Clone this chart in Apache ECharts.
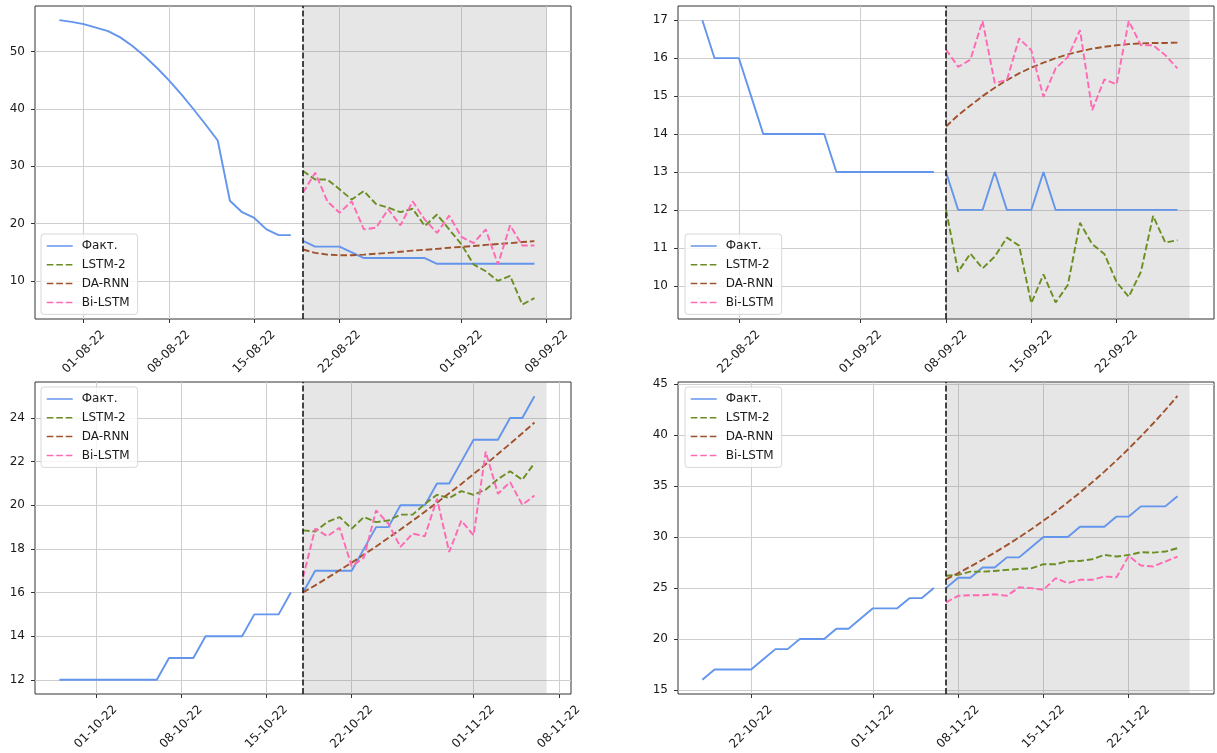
<!DOCTYPE html>
<html><head><meta charset="utf-8">
<script src="https://cdn.jsdelivr.net/npm/echarts@6/dist/echarts.min.js"></script>
<style>html,body{margin:0;padding:0;background:#fff}#c{width:1217px;height:753px}</style>
</head><body><div id="c"></div>
<script>
const seriesNames = ['Факт.', 'LSTM-2', 'DA-RNN', 'Bi-LSTM'];

// Panel 1 (top-left)
const p1HistStart = '2022-07-30';
const p1FactHist = [55.5, 55.2, 54.8, 54.2, 53.6, 52.5, 51.0, 49.2, 47.2, 45.0, 42.6, 40.0, 37.3, 34.5, 24.0, 22.0, 21.0, 19.0, 18.0, 18.0];
const p1FactFc = [17, 16, 16, 16, 15, 14, 14, 14, 14, 14, 14, 13, 13, 13, 13, 13, 13, 13, 13, 13];
const p1Lstm = [29.2, 27.7, 27.7, 26.0, 24.2, 25.7, 23.4, 22.8, 22.0, 22.6, 19.6, 21.6, 19.0, 16.4, 12.9, 11.7, 10.0, 10.9, 5.9, 7.0];
const p1DaRnn = [15.5, 14.9, 14.6, 14.5, 14.5, 14.6, 14.75, 14.9, 15.1, 15.3, 15.45, 15.6, 15.8, 15.95, 16.1, 16.3, 16.45, 16.6, 16.8, 16.95];
const p1BiLstm = [25.4, 28.9, 23.9, 21.9, 23.9, 19.0, 19.3, 22.5, 19.7, 23.9, 20.7, 18.4, 21.4, 17.7, 16.6, 19.0, 12.9, 19.7, 16.2, 16.2];
const p1Ticks = ['2022-08-01', '2022-08-08', '2022-08-15', '2022-08-22', '2022-09-01', '2022-09-08'];
const p1YTicks = [10, 20, 30, 40, 50];

// Panel 2 (top-right)
const p2HistStart = '2022-08-19';
const p2FactHist = [17, 16, 16, 16, 15, 14, 14, 14, 14, 14, 14, 13, 13, 13, 13, 13, 13, 13, 13, 13];
const p2FactFc = [13, 12, 12, 12, 13, 12, 12, 12, 13, 12, 12, 12, 12, 12, 12, 12, 12, 12, 12, 12];
const p2Lstm = [12.0, 10.37, 10.85, 10.46, 10.77, 11.27, 11.06, 9.54, 10.3, 9.56, 10.02, 11.66, 11.1, 10.84, 10.1, 9.71, 10.37, 11.84, 11.14, 11.2];
const p2DaRnn = [14.2, 14.5, 14.75, 15.0, 15.22, 15.42, 15.6, 15.75, 15.88, 16.0, 16.1, 16.18, 16.25, 16.3, 16.34, 16.37, 16.39, 16.4, 16.4, 16.41];
const p2BiLstm = [16.23, 15.77, 15.96, 16.98, 15.35, 15.42, 16.52, 16.21, 14.98, 15.73, 16.03, 16.74, 14.63, 15.44, 15.31, 16.98, 16.34, 16.34, 16.08, 15.73];
const p2Ticks = ['2022-08-22', '2022-09-01', '2022-09-08', '2022-09-15', '2022-09-22'];
const p2YTicks = [10, 11, 12, 13, 14, 15, 16, 17];

// Panel 3 (bottom-left)
const p3HistStart = '2022-09-28';
const p3FactHist = [12, 12, 12, 12, 12, 12, 12, 12, 12, 13, 13, 13, 14, 14, 14, 14, 15, 15, 15, 16];
const p3FactFc = [16, 17, 17, 17, 17, 18, 19, 19, 20, 20, 20, 21, 21, 22, 23, 23, 23, 24, 24, 25];
const p3Lstm = [18.85, 18.8, 19.23, 19.46, 18.93, 19.46, 19.23, 19.3, 19.57, 19.57, 20.06, 20.48, 20.33, 20.65, 20.48, 20.72, 21.2, 21.56, 21.17, 21.93];
const p3DaRnn = [16.0, 16.33, 16.67, 17.02, 17.37, 17.74, 18.11, 18.5, 18.89, 19.29, 19.7, 20.12, 20.55, 20.98, 21.43, 21.88, 22.35, 22.82, 23.3, 23.79];
const p3BiLstm = [16.69, 18.93, 18.58, 18.97, 17.2, 17.6, 19.77, 19.16, 18.09, 18.7, 18.58, 20.3, 17.86, 19.3, 18.62, 22.46, 20.53, 21.06, 20.02, 20.45];
const p3Ticks = ['2022-10-01', '2022-10-08', '2022-10-15', '2022-10-22', '2022-11-01', '2022-11-08'];
const p3YTicks = [12, 14, 16, 18, 20, 22, 24];

// Panel 4 (bottom-right)
const p4HistStart = '2022-10-18';
const p4FactHist = [16, 17, 17, 17, 17, 18, 19, 19, 20, 20, 20, 21, 21, 22, 23, 23, 23, 24, 24, 25];
const p4FactFc = [25, 26, 26, 27, 27, 28, 28, 29, 30, 30, 30, 31, 31, 31, 32, 32, 33, 33, 33, 34];
const p4Lstm = [26.2, 26.28, 26.6, 26.6, 26.67, 26.77, 26.87, 26.93, 27.33, 27.33, 27.62, 27.65, 27.82, 28.24, 28.08, 28.24, 28.5, 28.47, 28.57, 28.9];
const p4DaRnn = [25.85, 26.46, 27.1, 27.77, 28.47, 29.2, 29.96, 30.76, 31.6, 32.48, 33.4, 34.36, 35.36, 36.41, 37.51, 38.66, 39.87, 41.13, 42.45, 43.83];
const p4BiLstm = [23.58, 24.23, 24.29, 24.29, 24.38, 24.23, 25.07, 24.98, 24.82, 25.96, 25.47, 25.8, 25.8, 26.12, 26.05, 28.14, 27.2, 27.1, 27.59, 28.08];
const p4Ticks = ['2022-10-22', '2022-11-01', '2022-11-08', '2022-11-15', '2022-11-22'];
const p4YTicks = [15, 20, 25, 30, 35, 40, 45];

const dayOf = s => { const [y, m, d] = s.split('-').map(Number); return Date.UTC(y, m - 1, d) / 864e5; };
const pad = n => (n < 10 ? '0' : '') + n;
const fmt = v => { const dt = new Date(Math.round(v) * 864e5); return pad(dt.getUTCDate()) + '-' + pad(dt.getUTCMonth() + 1) + '-' + String(dt.getUTCFullYear()).slice(2); };

const panels = [
  { start: p1HistStart, hist: p1FactHist, fc: p1FactFc, lstm: p1Lstm, darnn: p1DaRnn, bi: p1BiLstm, xt: p1Ticks, yt: p1YTicks, ymin: 3.37, ymax: 57.97,
    grid: { left: 35, top: 6, width: 536, height: 313 }, leg: { left: 41, top: 234 } },
  { start: p2HistStart, hist: p2FactHist, fc: p2FactFc, lstm: p2Lstm, darnn: p2DaRnn, bi: p2BiLstm, xt: p2Ticks, yt: p2YTicks, ymin: 9.125, ymax: 17.375,
    grid: { left: 678, top: 6, width: 536, height: 313 }, leg: { left: 685, top: 234 } },
  { start: p3HistStart, hist: p3FactHist, fc: p3FactFc, lstm: p3Lstm, darnn: p3DaRnn, bi: p3BiLstm, xt: p3Ticks, yt: p3YTicks, ymin: 11.35, ymax: 25.65,
    grid: { left: 35, top: 382, width: 536, height: 312 }, leg: { left: 41, top: 387 } },
  { start: p4HistStart, hist: p4FactHist, fc: p4FactFc, lstm: p4Lstm, darnn: p4DaRnn, bi: p4BiLstm, xt: p4Ticks, yt: p4YTicks, ymin: 14.6, ymax: 45.2,
    grid: { left: 678, top: 382, width: 536, height: 312 }, leg: { left: 685, top: 387 } }
];

const COLORS = { fact: '#6495ED', lstm: '#6B8E23', darnn: '#A0522D', bi: '#FF69B4' };
const DASH = [6.6, 2.9];
const LW = 1.9;
const FONT = 'DejaVu Sans';

const grids = [], xAxes = [], yAxes = [], series = [], legends = [];

panels.forEach((p, i) => {
  const s0 = dayOf(p.start);
  const fcStart = s0 + p.hist.length;
  const greyEnd = fcStart + p.fc.length;
  grids.push(Object.assign({ show: true, borderColor: '#333', borderWidth: 1, backgroundColor: 'transparent', containLabel: false, outerBoundsMode: 'none' }, p.grid));
  const xt = p.xt.map(dayOf);
  xAxes.push({
    type: 'value', gridIndex: i, min: s0 - 2, max: greyEnd + 2,
    axisLine: { show: false },
    axisTick: { show: true, length: 4, lineStyle: { color: '#333', width: 1 }, customValues: xt },
    axisLabel: { customValues: xt, rotate: 45, align: 'center', verticalAlign: 'middle', margin: 33,
      fontSize: 12, color: '#1a1a1a', fontFamily: FONT, formatter: fmt },
    splitLine: { show: true, lineStyle: { color: '#cecece', width: 1 } }
  });
  yAxes.push({
    type: 'value', gridIndex: i, min: p.ymin, max: p.ymax,
    axisLine: { show: false },
    axisTick: { show: true, length: 4, lineStyle: { color: '#333', width: 1 }, customValues: p.yt },
    axisLabel: { customValues: p.yt, margin: 10, fontSize: 12, color: '#1a1a1a', fontFamily: FONT },
    splitLine: { show: true, lineStyle: { color: '#cecece', width: 1 } }
  });
  const pts = (arr, off) => arr.map((v, k) => [off + k, v]);
  const base = { type: 'line', xAxisIndex: i, yAxisIndex: i, symbol: 'none', showSymbol: false, silent: true, animation: false, emphasis: { disabled: true } };
  series.push(Object.assign({}, base, {
    name: seriesNames[0], data: pts(p.hist, s0),
    lineStyle: { color: COLORS.fact, width: LW, type: 'solid' }, itemStyle: { color: COLORS.fact },
    markArea: { silent: true, itemStyle: { color: 'rgba(128,128,128,0.2)' }, data: [[{ xAxis: fcStart }, { xAxis: greyEnd }]] }
  }));
  series.push(Object.assign({}, base, {
    name: seriesNames[0], data: pts(p.fc, fcStart),
    lineStyle: { color: COLORS.fact, width: LW, type: 'solid' }, itemStyle: { color: COLORS.fact },
    markLine: { silent: true, symbol: ['none', 'none'], label: { show: false },
      lineStyle: { color: '#1a1a1a', width: 1.6, type: [6, 2.4] }, data: [{ xAxis: fcStart }] }
  }));
  series.push(Object.assign({}, base, {
    name: seriesNames[1], data: pts(p.lstm, fcStart),
    lineStyle: { color: COLORS.lstm, width: LW, type: DASH }, itemStyle: { color: COLORS.lstm }
  }));
  series.push(Object.assign({}, base, {
    name: seriesNames[2], data: pts(p.darnn, fcStart),
    lineStyle: { color: COLORS.darnn, width: LW, type: DASH }, itemStyle: { color: COLORS.darnn }
  }));
  series.push(Object.assign({}, base, {
    name: seriesNames[3], data: pts(p.bi, fcStart),
    lineStyle: { color: COLORS.bi, width: LW, type: DASH }, itemStyle: { color: COLORS.bi }
  }));
  legends.push({
    orient: 'vertical', left: p.leg.left, top: p.leg.top, data: seriesNames.slice(),
    itemWidth: 26, itemHeight: 14, itemGap: 6.8, selectedMode: false,
    itemStyle: { opacity: 0 },
    lineStyle: { width: 1.5 },
    textStyle: { fontSize: 12, color: '#1a1a1a', fontFamily: FONT, padding: [0, 0, 0, 4] },
    backgroundColor: 'rgba(255,255,255,0.8)', borderColor: '#d8d8d8', borderWidth: 1, borderRadius: 3,
    padding: [6, 8, 6, 5]
  });
});

const chart = echarts.init(document.getElementById('c'), null, { renderer: 'canvas' });
chart.setOption({
  animation: false,
  backgroundColor: '#fff',
  textStyle: { fontFamily: FONT },
  grid: grids, xAxis: xAxes, yAxis: yAxes, series: series, legend: legends
});
</script></body></html>
